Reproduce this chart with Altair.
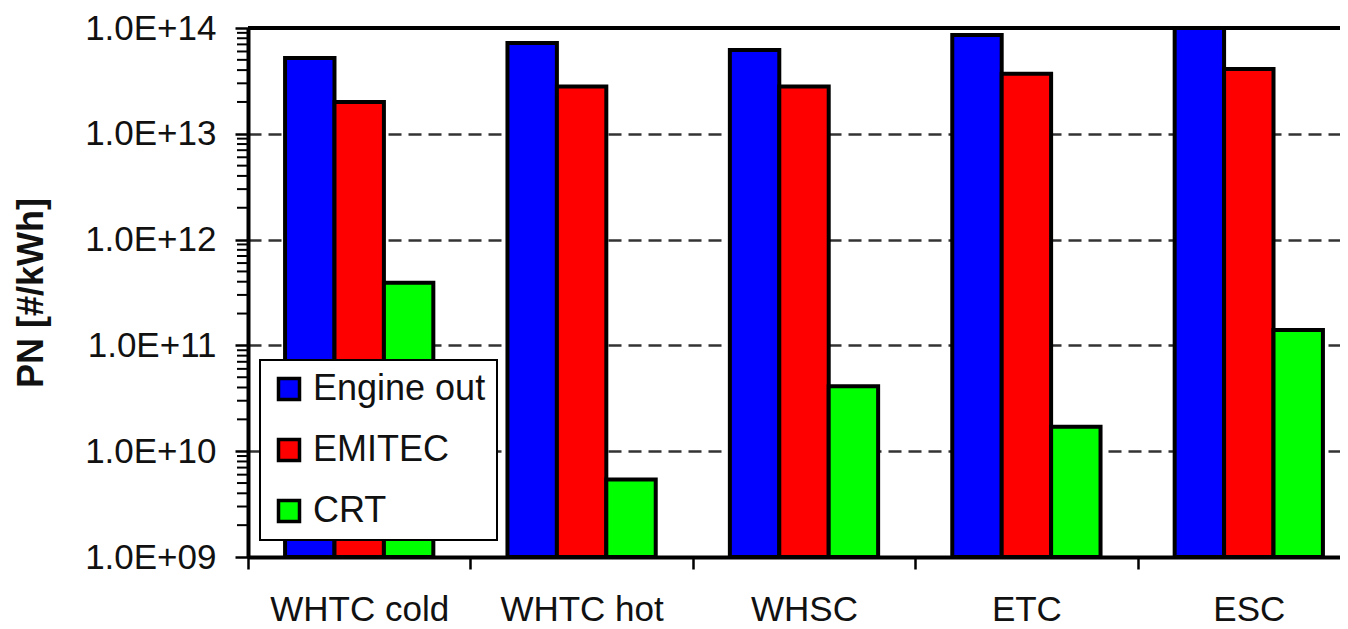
import altair as alt
import pandas as pd

categories = ["WHTC cold", "WHTC hot", "WHSC", "ETC", "ESC"]
series = ["Engine out", "EMITEC", "CRT"]
engine_out = [5.2e13, 7.2e13, 6.2e13, 8.6e13, 1.0e14]
emitec = [2.0e13, 2.8e13, 2.8e13, 3.7e13, 4.1e13]
crt = [3.9e11, 5.4e9, 4.1e10, 1.7e10, 1.4e11]
colors = ["#0000FF", "#FF0000", "#00FF00"]
decades = [1e9, 1e10, 1e11, 1e12, 1e13, 1e14]
minor_ticks = [d * k for d in decades[:-1] for k in range(2, 10)]
baseline = 1e9

rows = []
for s, vals in zip(series, [engine_out, emitec, crt]):
    for c, v in zip(categories, vals):
        rows.append({"cycle": c, "series": s, "pn": v, "base": baseline})
df = pd.DataFrame(rows)

W = 1092
H = 529
XR = 1112
FONT = "Liberation Sans"

yscale = alt.Scale(type="log", domain=[1e9, 1e14], nice=False)
xscale = alt.Scale(range=[0, XR], paddingInner=0, paddingOuter=0)

label_expr = ("'1.0E+' + (round(log(datum.value)/LN10) < 10 ? '0' : '') + "
              "round(log(datum.value)/LN10)")

yaxis = alt.Axis(values=decades, labelExpr=label_expr, labelFontSize=35,
                 labelFont=FONT, labelColor="#111", labelPadding=19,
                 labelOverlap=False, labelLimit=0, tickSize=13, tickWidth=2.5,
                 tickColor="black", domainColor="black", domainWidth=4,
                 grid=True, gridDash=[13, 7], gridColor="#333", gridWidth=2.5,
                 titleFontSize=36, titleFont=FONT, titleFontWeight="bold",
                 titleColor="#111", titleX=-217, titleY=264.5, titleAngle=270,
                 titleAlign="center", titleBaseline="middle")

xaxis = alt.Axis(labelFontSize=35, labelFont=FONT, labelColor="#111", labelAngle=0,
                 tickBand="extent", tickSize=12, tickWidth=2.5, tickColor="black",
                 domainColor="black", domainWidth=4, labelPadding=23,
                 labelOverlap=False, labelLimit=0, grid=False)

bars = alt.Chart(df).mark_bar(stroke="black", strokeWidth=4).encode(
    x=alt.X("cycle:N", sort=categories, title=None, scale=xscale, axis=xaxis),
    xOffset=alt.XOffset("series:N", sort=series,
                        scale=alt.Scale(paddingInner=0, paddingOuter=0.75)),
    y=alt.Y("pn:Q", scale=yscale, title="PN [#/kWh]", axis=yaxis),
    y2=alt.Y2("base:Q"),
    color=alt.Color("series:N", sort=series,
                    scale=alt.Scale(domain=series, range=colors),
                    legend=alt.Legend(title=None, orient="none", legendX=12, legendY=332,
                                      labelLimit=0)),
)

minor = alt.Chart(pd.DataFrame({"v": minor_ticks})).mark_rule(
    color="black", strokeWidth=2).encode(
    y=alt.Y("v:Q", scale=yscale, title="PN [#/kWh]", axis=yaxis),
    x=alt.value(-11), x2=alt.value(0))

top = alt.Chart(pd.DataFrame({"a": [0]})).mark_rule(color="black", strokeWidth=4).encode(
    x=alt.value(0), x2=alt.value(XR), y=alt.value(0))

chart = alt.layer(bars, minor, top).properties(
    width=W, height=H,
    autosize=alt.AutoSizeParams(type="none"),
    padding={"left": 240, "top": 20, "right": 0, "bottom": 72},
).configure_view(stroke=None).configure_legend(
    fillColor="white", strokeColor="black", strokeWidth=2, padding=11,
    labelFontSize=36, labelFont=FONT, labelColor="#111", labelOffset=6,
    symbolType="square", symbolSize=441, symbolStrokeColor="black",
    symbolStrokeWidth=3.5, symbolOpacity=1, rowPadding=25,
)

chart.save("out.html", embed_options={"renderer": "svg", "actions": False})
